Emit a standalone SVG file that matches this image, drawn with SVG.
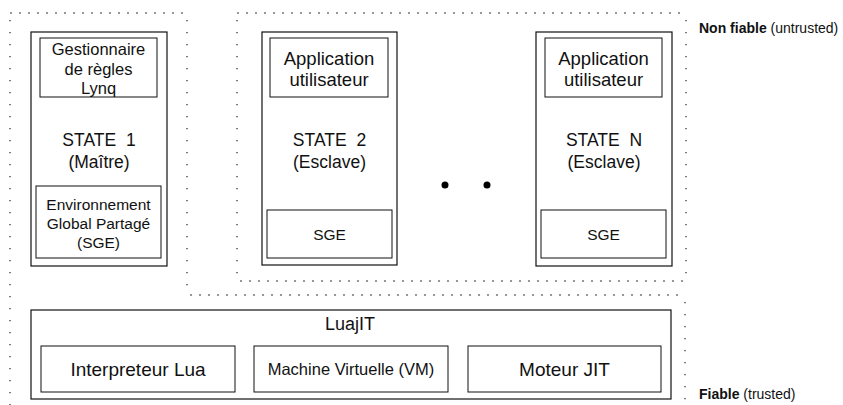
<svg xmlns="http://www.w3.org/2000/svg" width="843" height="405" viewBox="0 0 843 405">
<style>
text{font-family:"Liberation Sans",Arial,Helvetica,sans-serif;fill:#111;text-anchor:middle}
.box{fill:#fff;stroke:#111;stroke-width:1.2}
.inner{fill:#fff;stroke:#111;stroke-width:1}
.dh{stroke:#333;stroke-width:1.1;stroke-dasharray:2 7;fill:none}
.dv{stroke:#333;stroke-width:1.3;stroke-dasharray:1.3 10.7;fill:none}
.lbl{text-anchor:start;font-size:14px}
</style>
<rect width="843" height="405" fill="#fff"/>
<g id="zones">
  <!-- trusted zone -->
  <line class="dh" x1="10" y1="13" x2="187" y2="13"/>
  <line class="dv" x1="10" y1="20" x2="10" y2="405"/>
  <line class="dv" x1="187" y1="20" x2="187" y2="295"/>
  <line class="dh" x1="190" y1="295" x2="685" y2="295"/>
  <line class="dv" x1="685" y1="302" x2="685" y2="400"/>
  <!-- untrusted zone -->
  <line class="dh" x1="237" y1="13" x2="686" y2="13"/>
  <line class="dv" x1="237" y1="20" x2="237" y2="281"/>
  <line class="dv" x1="686" y1="20" x2="686" y2="281"/>
  <line class="dh" x1="240" y1="281" x2="686" y2="281"/>
</g>
<g id="state1">
  <rect class="box" x="31" y="32" width="136" height="234"/>
  <rect class="inner" x="40" y="38" width="117" height="59"/>
  <text font-size="16.5"><tspan x="98.5" y="55">Gestionnaire</tspan><tspan x="98.5" y="74.5">de règles</tspan><tspan x="98.5" y="94">Lynq</tspan></text>
  <text font-size="17.5"><tspan x="99" y="146" xml:space="preserve">STATE  1</tspan><tspan x="99" y="168">(Maître)</tspan></text>
  <rect class="inner" x="36" y="186" width="125" height="72"/>
  <text font-size="15.5"><tspan x="98.5" y="210">Environnement</tspan><tspan x="98.5" y="229">Global Partagé</tspan><tspan x="98.5" y="248">(SGE)</tspan></text>
</g>
<g id="state2">
  <rect class="box" x="262" y="32" width="135" height="233"/>
  <rect class="inner" x="270" y="38" width="118" height="59"/>
  <text font-size="18.5"><tspan x="329" y="65">Application</tspan><tspan x="329" y="86">utilisateur</tspan></text>
  <text font-size="17.5"><tspan x="329.5" y="146" xml:space="preserve">STATE  2</tspan><tspan x="329.5" y="168">(Esclave)</tspan></text>
  <rect class="inner" x="267" y="210" width="125" height="48"/>
  <text font-size="15.5" x="329.5" y="240">SGE</text>
</g>
<g id="ellipsis">
  <circle cx="445" cy="185" r="3.5" fill="#000"/>
  <circle cx="487" cy="185" r="3.5" fill="#000"/>
</g>
<g id="stateN">
  <rect class="box" x="536" y="32" width="136" height="234"/>
  <rect class="inner" x="545" y="38" width="117" height="59"/>
  <text font-size="18.5"><tspan x="603.5" y="65">Application</tspan><tspan x="603.5" y="86">utilisateur</tspan></text>
  <text font-size="17.5"><tspan x="604" y="146" xml:space="preserve">STATE  N</tspan><tspan x="604" y="168">(Esclave)</tspan></text>
  <rect class="inner" x="541" y="210" width="125" height="48"/>
  <text font-size="15.5" x="603.5" y="240">SGE</text>
</g>
<g id="luajit">
  <rect class="box" x="31" y="310" width="640" height="89"/>
  <text font-size="18" x="350" y="330">LuajIT</text>
</g>
<g id="interp">
  <rect class="inner" x="41" y="346" width="194" height="46"/>
  <text font-size="19" x="138" y="376">Interpreteur Lua</text>
</g>
<g id="vm">
  <rect class="inner" x="254" y="346" width="194" height="46"/>
  <text font-size="16.5" x="351" y="375">Machine Virtuelle (VM)</text>
</g>
<g id="jit">
  <rect class="inner" x="468" y="346" width="193" height="46"/>
  <text font-size="19" x="564.5" y="376">Moteur JIT</text>
</g>
<g id="legend">
  <text class="lbl" x="699" y="33"><tspan font-weight="bold">Non fiable</tspan> (untrusted)</text>
  <text class="lbl" x="699" y="399"><tspan font-weight="bold">Fiable</tspan> (trusted)</text>
</g>
<g id="connectors"></g>
</svg>
